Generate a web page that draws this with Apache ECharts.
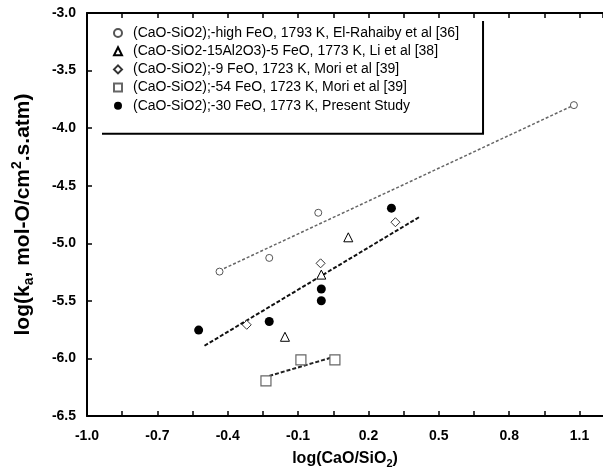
<!DOCTYPE html>
<html>
<head>
<meta charset="utf-8">
<script src="https://cdn.jsdelivr.net/npm/echarts@6/dist/echarts.min.js"></script>
<style>
html,body{margin:0;padding:0;background:#fff;}
#c{width:603px;height:476px;}
</style>
</head>
<body>
<div id="c"></div>
<script>
// ---- data ----
const seriesNames = [
  '(CaO-SiO2);-high FeO, 1793 K, El-Rahaiby et al [36]',
  '(CaO-SiO2-15Al2O3)-5 FeO, 1773 K, Li et al [38]',
  '(CaO-SiO2);-9 FeO, 1723 K, Mori et al [39]',
  '(CaO-SiO2);-54 FeO, 1723 K, Mori et al [39]',
  '(CaO-SiO2);-30 FeO, 1773 K, Present Study'
];
const elRahaibyX = [-0.435, -0.223, -0.014, 1.076];
const elRahaibyY = [-5.246, -5.127, -4.735, -3.80];
const liX = [0.114, -0.001, -0.156];
const liY = [-4.948, -5.272, -5.812];
const mori9X = [0.315, -0.004, -0.319];
const mori9Y = [-4.817, -5.174, -5.708];
const mori54X = [-0.088, 0.057, -0.237];
const mori54Y = [-6.012, -6.012, -6.195];
const presentX = [0.298, -0.001, -0.001, -0.223, -0.524];
const presentY = [-4.695, -5.397, -5.499, -5.679, -5.754];
// trend lines (end points)
const trend1X = [-0.435, 1.076];
const trend1Y = [-5.237, -3.80];
const trend2X = [-0.499, 0.421];
const trend2Y = [-5.890, -4.767];
const trend3X = [-0.223, 0.053];
const trend3Y = [-6.152, -5.986];
// axes
const xMin = -1.0, xMax = 1.2, xTickStep = 0.15, xLabelStep = 0.3;
const yMin = -6.5, yMax = -3.0, yStep = 0.5;

function zip(xs, ys){ return xs.map((x,i)=>[x, ys[i]]); }

const FONT = '"Liberation Sans", Arial, sans-serif';
const chart = echarts.init(document.getElementById('c'), null, {renderer:'canvas'});

const xAxisBase = {
  type:'value', min:xMin, max:xMax, interval:xTickStep,
  splitLine:{show:false},
  axisLine:{show:true, onZero:false, lineStyle:{color:'#000', width:2}},
  axisTick:{show:true, inside:true, length:5, lineStyle:{color:'#000', width:1.5}}
};

const option = {
  backgroundColor:'#fff',
  animation:false,
  grid:{left:87, top:13, right:0, bottom:60},
  legend:{
    orient:'vertical', left:100, top:19,
    padding:[7, 23, 20, 13],
    itemGap:4.2, itemWidth:8, itemHeight:8,
    backgroundColor:'#fff', borderWidth:0,
    shadowColor:'#000', shadowOffsetX:2, shadowOffsetY:2, shadowBlur:0,
    textStyle:{fontFamily:FONT, fontSize:14, color:'#000', lineHeight:14, padding:[0,0,0,6]},
    data:seriesNames
  },
  xAxis:[
    Object.assign({}, xAxisBase, {
      position:'bottom',
      name:'log(CaO/SiO{s|2})', nameLocation:'middle', nameGap:33,
      nameTextStyle:{fontFamily:FONT, fontSize:16, fontWeight:'bold', color:'#000',
        rich:{s:{fontFamily:FONT, fontSize:11, fontWeight:'bold', verticalAlign:'bottom', padding:[9,0,0,0]}}},
      axisLabel:{show:true, fontFamily:FONT, fontSize:14, fontWeight:'bold', color:'#000', margin:13,
        showMaxLabel:false,
        formatter:function(v){
          const k = Math.round((v - xMin)/xTickStep);
          const step = Math.round(xLabelStep/xTickStep);
          if (k % step !== 0) return '';
          return v.toFixed(1);
        }}
    }),
    Object.assign({}, xAxisBase, {position:'top', axisLabel:{show:false}})
  ],
  yAxis:{
    type:'value', min:yMin, max:yMax, interval:yStep,
    splitLine:{show:false},
    axisLine:{show:true, onZero:false, lineStyle:{color:'#000', width:2}},
    axisTick:{show:true, inside:true, length:5, lineStyle:{color:'#000', width:1.5}},
    axisLabel:{fontFamily:FONT, fontSize:14, fontWeight:'bold', color:'#000', margin:11,
      formatter:function(v){ return v.toFixed(1); }},
    name:'log(k{s|a}, mol-O/cm{p|2}.s.atm)', nameLocation:'middle', nameGap:51, nameRotate:90,
    nameTextStyle:{fontFamily:FONT, fontSize:21, fontWeight:'bold', color:'#000',
      rich:{
        s:{fontFamily:FONT, fontSize:14, fontWeight:'bold', verticalAlign:'bottom', padding:[12,0,0,0]},
        p:{fontFamily:FONT, fontSize:14, fontWeight:'bold', verticalAlign:'top', padding:[0,0,10,0]}
      }}
  },
  series:[
    {type:'line', data:zip(trend1X, trend1Y), showSymbol:false, silent:true, z:1,
      lineStyle:{color:'#666', width:1.5, type:[3,2]}},
    {type:'line', data:zip(trend2X, trend2Y), showSymbol:false, silent:true, z:1,
      lineStyle:{color:'#111', width:2, type:[4,2]}},
    {type:'line', data:zip(trend3X, trend3Y), showSymbol:false, silent:true, z:1,
      lineStyle:{color:'#222', width:2, type:[4,2]}},
    {name:seriesNames[0], type:'scatter', data:zip(elRahaibyX, elRahaibyY), symbol:'circle', symbolSize:7,
      itemStyle:{color:'#fff', borderColor:'#555', borderWidth:1, opacity:1}, z:3},
    {name:seriesNames[1], type:'scatter', data:zip(liX, liY), symbol:'triangle', symbolSize:9,
      itemStyle:{color:'#fff', borderColor:'#000', borderWidth:1, opacity:1}, z:3},
    {name:seriesNames[2], type:'scatter', data:zip(mori9X, mori9Y), symbol:'diamond', symbolSize:9,
      itemStyle:{color:'#fff', borderColor:'#333', borderWidth:1, opacity:1}, z:3},
    {name:seriesNames[3], type:'scatter', data:zip(mori54X, mori54Y), symbol:'rect', symbolSize:10,
      itemStyle:{color:'#fff', borderColor:'#666', borderWidth:1.2, opacity:1}, z:3},
    {name:seriesNames[4], type:'scatter', data:zip(presentX, presentY), symbol:'circle', symbolSize:9,
      itemStyle:{color:'#000', borderColor:'#000', borderWidth:0, opacity:1}, z:3}
  ]
};
chart.setOption(option);
</script>
</body>
</html>
